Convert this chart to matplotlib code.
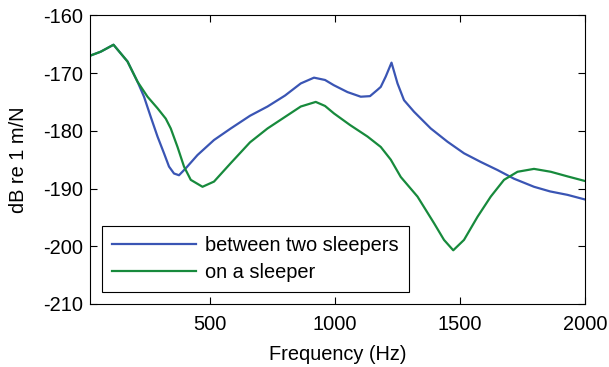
import matplotlib
matplotlib.use("Agg")
import matplotlib.pyplot as plt

# receptance level of the rail, measured at two excitation positions
freq_between = [20, 63, 114, 170, 210, 236, 263, 290, 316, 336, 356, 376, 403,
                450, 516, 583, 660, 730, 800, 863, 916, 960, 995, 1050, 1103,
                1140, 1170, 1183, 1203, 1226, 1250, 1276, 1316, 1383, 1450,
                1516, 1583, 1650, 1716, 1796, 1860, 1930, 2000]
db_between = [-167.0, -166.3, -165.1, -168.0, -171.5, -174.1, -177.6, -181.0,
              -183.9, -186.2, -187.4, -187.7, -186.5, -184.2, -181.6, -179.6,
              -177.4, -175.8, -173.9, -171.8, -170.8, -171.2, -172.1, -173.3,
              -174.1, -174.0, -172.9, -172.4, -170.6, -168.2, -171.8, -174.7,
              -176.7, -179.6, -181.9, -183.9, -185.4, -186.8, -188.3, -189.7,
              -190.5, -191.1, -191.9]

freq_sleeper = [20, 63, 114, 170, 210, 250, 290, 323, 343, 370, 396, 423, 470,
                516, 583, 660, 730, 800, 863, 923, 960, 996, 1060, 1130, 1183,
                1223, 1263, 1330, 1396, 1436, 1473, 1516, 1570, 1623, 1676,
                1730, 1796, 1863, 1930, 2000]
db_sleeper = [-167.0, -166.3, -165.1, -168.0, -171.5, -174.1, -176.1, -177.9,
              -179.6, -182.8, -186.2, -188.5, -189.7, -188.8, -185.6, -182.0,
              -179.6, -177.6, -175.8, -175.0, -175.7, -177.0, -179.0, -181.0,
              -182.8, -185.0, -188.0, -191.4, -196.0, -198.9, -200.7, -198.9,
              -194.9, -191.4, -188.5, -187.1, -186.6, -187.1, -187.9, -188.7]

BLUE = "#3a55b4"
GREEN = "#178a3c"

plt.rcParams["font.family"] = "Liberation Sans"
plt.rcParams["font.size"] = 14.4
plt.rcParams["axes.unicode_minus"] = False

fig = plt.figure(figsize=(6.09, 3.67), dpi=100)
ax = fig.add_axes([0.1478, 0.1717, 0.8128, 0.7866])

ax.plot(freq_between, db_between, color=BLUE, lw=1.6, label="between two sleepers")
ax.plot(freq_sleeper, db_sleeper, color=GREEN, lw=1.6, label="on a sleeper")

ax.set_xlim(20, 2000)
ax.set_ylim(-210, -160)
ax.set_xticks([500, 1000, 1500, 2000])
ax.set_yticks(range(-210, -159, 10))
ax.tick_params(direction="in", top=True, right=True, length=5, width=0.8, pad=5)
ax.tick_params(axis="x", pad=8)
for s in ax.spines.values():
    s.set_linewidth(0.8)

ax.set_xlabel("Frequency (Hz)", labelpad=8)
ax.set_ylabel("dB re 1 m/N", labelpad=11)

leg = ax.legend(loc="lower left", bbox_to_anchor=(0.0242, 0.0405),
                borderaxespad=0, fancybox=False, framealpha=1,
                edgecolor="black", handlelength=4.2, handletextpad=0.45,
                labelspacing=0.42, borderpad=0.5)
leg.get_frame().set_linewidth(0.8)

fig.savefig("out.png", dpi=100)
